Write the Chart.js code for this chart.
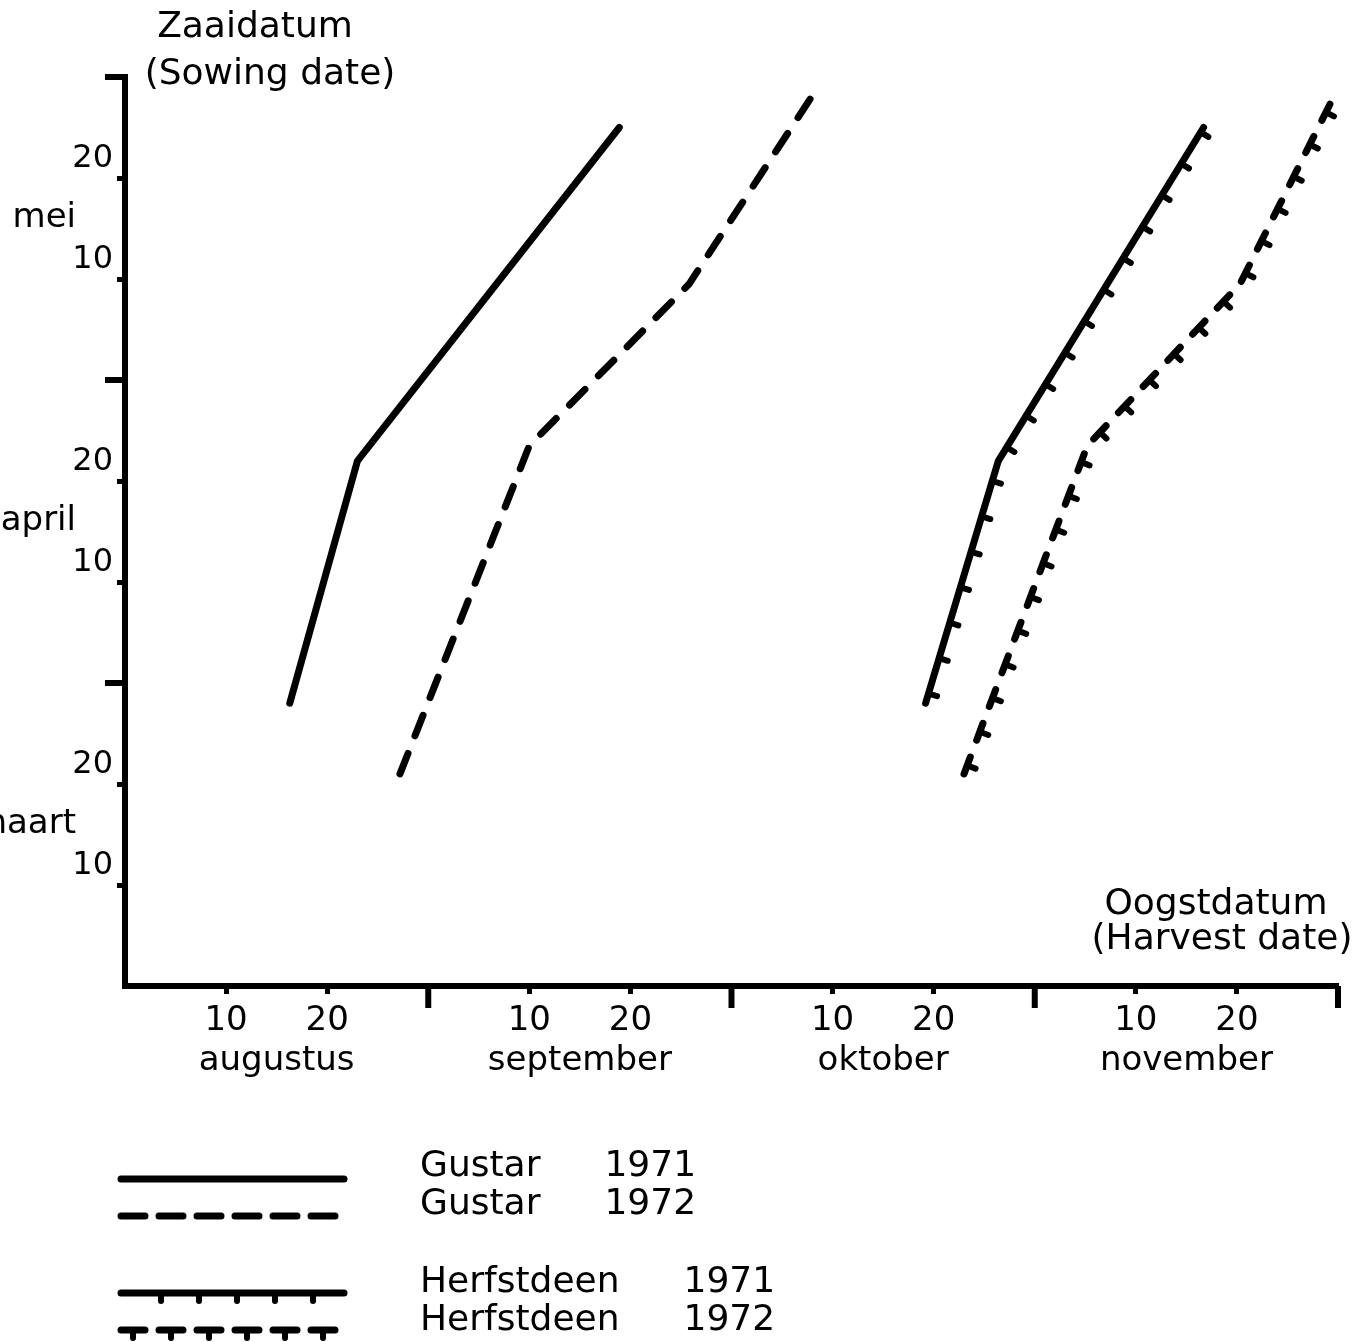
<!DOCTYPE html>
<html>
<head>
<meta charset="utf-8">
<script src="https://cdn.jsdelivr.net/npm/chart.js@4.4.1/dist/chart.umd.min.js"></script>
<style>
  html, body { margin: 0; padding: 0; background: #fff; }
  canvas { display: block; }
</style>
</head>
<body>
<canvas id="chart" width="1363" height="1342"></canvas>
<script>
// both axes use 30 units per month, ticks every 10 days
// x: harvest date (0 = start of august), y: sowing date (0 = start of march)
const harvestMonths = ['augustus', 'september', 'oktober', 'november'];
const sowingMonths = ['maart', 'april', 'mei'];
const seriesLabels = ['Gustar 1971', 'Gustar 1972', 'Herfstdeen 1971', 'Herfstdeen 1972'];

const gustar71Harvest = [16.3, 23.0, 48.9];
const gustar71Sowing = [28, 52, 85];
const gustar72Harvest = [27.2, 40.0, 55.8, 67.9];
const gustar72Sowing = [21, 53.5, 69.5, 88];
const herfst71Harvest = [79.2, 86.4, 106.7];
const herfst71Sowing = [28, 52, 85];
const herfst72Harvest = [83.0, 95.2, 110.3, 119.4];
const herfst72Sowing = [21, 53.5, 69.5, 87.7];

const FONT = '"DejaVu Sans", sans-serif';

const pts = (xs, ys) => xs.map((x, i) => ({ x: x, y: ys[i] }));
const dayLabel = v => (v % 30 === 10 ? '10' : v % 30 === 20 ? '20' : '');

// little ticks along a polyline, on the right-hand side of travel direction
function tickMarks(ctx, p, spacing, phase, len) {
  let next = phase;
  for (let i = 1; i < p.length; i++) {
    const [x0, y0] = p[i - 1], [x1, y1] = p[i];
    const L = Math.hypot(x1 - x0, y1 - y0);
    const ux = (x1 - x0) / L, uy = (y1 - y0) / L;
    while (next <= L) {
      const px = x0 + ux * next, py = y0 + uy * next;
      ctx.beginPath();
      ctx.moveTo(px, py);
      ctx.lineTo(px - uy * len, py + ux * len);
      ctx.stroke();
      next += spacing;
    }
    next -= L;
  }
}

function line(ctx, x0, y0, x1, y1) {
  ctx.beginPath();
  ctx.moveTo(x0, y0);
  ctx.lineTo(x1, y1);
  ctx.stroke();
}

const decor = {
  id: 'decor',
  afterDatasetsDraw(chart) {
    const ctx = chart.ctx;
    chart.data.datasets.forEach((ds, i) => {
      if (!ds.tickSpacing) return;
      const p = chart.getDatasetMeta(i).data.map(e => [e.x, e.y]);
      ctx.save();
      ctx.strokeStyle = '#000';
      ctx.lineWidth = 6;
      ctx.lineCap = 'round';
      tickMarks(ctx, p, ds.tickSpacing, ds.tickPhase, 9);
      ctx.restore();
    });
  },
  afterDraw(chart) {
    const { ctx, chartArea: a, scales: { x, y } } = chart;
    ctx.save();
    ctx.strokeStyle = '#000';
    ctx.fillStyle = '#000';

    // longer ticks at month boundaries
    ctx.lineWidth = 6;
    [30, 60, 90].forEach(v => {
      const py = y.getPixelForValue(v);
      line(ctx, a.left - 20, py, a.left, py);
    });
    [30, 60, 90, 120].forEach(v => {
      const px = x.getPixelForValue(v);
      line(ctx, px, a.bottom, px, a.bottom + 22);
    });

    // axis titles
    ctx.font = '36px ' + FONT;
    ctx.textBaseline = 'middle';
    ctx.textAlign = 'center';
    ctx.fillText('Zaaidatum', 255, 28);
    ctx.fillText('(Sowing date)', 270, 75);
    ctx.fillText('Oogstdatum', 1216, 905);
    ctx.fillText('(Harvest date)', 1222, 940);

    // sowing month names
    ctx.font = '34px ' + FONT;
    ctx.textAlign = 'right';
    sowingMonths.forEach((m, i) => ctx.fillText(m, 76, y.getPixelForValue(16 + 30 * i)));

    // legend
    const rows = [1179, 1216, 1293, 1330];
    const textRows = [1167, 1205, 1283, 1321];
    ctx.font = '36px ' + FONT;
    chart.data.datasets.forEach((ds, i) => {
      ctx.save();
      ctx.lineWidth = ds.borderWidth;
      ctx.lineCap = 'round';
      ctx.setLineDash(ds.legendDash || []);
      line(ctx, 121, rows[i], 344, rows[i]);
      ctx.setLineDash([]);
      if (ds.tickSpacing) {
        ctx.lineWidth = 6;
        tickMarks(ctx, [[121, rows[i]], [344, rows[i]]], 38, ds.legendTickPhase, 8);
      }
      ctx.restore();
      const [name, year] = ds.label.split(' ');
      ctx.textAlign = 'left';
      ctx.fillText(name, 420, textRows[i]);
      ctx.fillText(year, 420 + ctx.measureText(name).width + 64, textRows[i]);
    });
    ctx.restore();
  }
};

const axisGrid = {
  drawOnChartArea: false,
  drawTicks: true,
  tickLength: 8,
  tickWidth: 5,
  tickColor: c => (c.tick && c.tick.value === 0 ? 'rgba(0,0,0,0)' : '#000')
};

new Chart(document.getElementById('chart'), {
  type: 'line',
  data: {
    datasets: [
      {
        label: seriesLabels[0],
        data: pts(gustar71Harvest, gustar71Sowing),
        borderWidth: 7
      },
      {
        label: seriesLabels[1],
        data: pts(gustar72Harvest, gustar72Sowing),
        borderWidth: 7,
        borderDash: [22, 19],
        legendDash: [24, 14]
      },
      {
        label: seriesLabels[2],
        data: pts(herfst71Harvest, herfst71Sowing),
        borderWidth: 7,
        tickSpacing: 37,
        tickPhase: 10,
        legendTickPhase: 40
      },
      {
        label: seriesLabels[3],
        data: pts(herfst72Harvest, herfst72Sowing),
        borderWidth: 7,
        borderDash: [18, 18],
        legendDash: [24, 14],
        tickSpacing: 36,
        tickPhase: 9,
        legendTickPhase: 12
      }
    ].map(ds => Object.assign({
      borderColor: '#000',
      backgroundColor: '#000',
      borderCapStyle: 'round',
      borderJoinStyle: 'round',
      pointRadius: 0,
      tension: 0,
      fill: false,
      clip: false
    }, ds))
  },
  options: {
    responsive: false,
    animation: false,
    devicePixelRatio: 1,
    layout: { padding: { left: 0, top: 77, right: 25, bottom: 265 } },
    plugins: {
      legend: { display: false },
      tooltip: { enabled: false }
    },
    scales: {
      x: {
        type: 'linear',
        position: 'bottom',
        min: 0,
        max: 120,
        border: { display: true, width: 6, color: '#000' },
        grid: axisGrid,
        ticks: {
          stepSize: 10,
          autoSkip: false,
          maxRotation: 0,
          padding: 7,
          color: '#000',
          font: { family: FONT, size: 34 },
          callback: dayLabel
        },
        afterFit: s => { s.height = 47; }
      },
      xm: {
        type: 'linear',
        position: 'bottom',
        weight: 1,
        min: 0,
        max: 120,
        border: { display: false },
        grid: { display: false },
        afterBuildTicks: s => { s.ticks = harvestMonths.map((m, i) => ({ value: 15 + 30 * i })); },
        ticks: {
          autoSkip: false,
          maxRotation: 0,
          padding: 0,
          color: '#000',
          font: { family: FONT, size: 34 },
          callback: (v, i) => harvestMonths[i]
        },
        afterFit: s => { s.height = 44; }
      },
      y: {
        type: 'linear',
        min: 0,
        max: 90,
        border: { display: true, width: 6, color: '#000' },
        grid: axisGrid,
        ticks: {
          stepSize: 10,
          autoSkip: false,
          padding: 4,
          labelOffset: -19,
          color: '#000',
          font: { family: FONT, size: 32 },
          callback: dayLabel
        },
        afterFit: s => { s.width = 125; }
      }
    }
  },
  plugins: [decor]
});
</script>
</body>
</html>
